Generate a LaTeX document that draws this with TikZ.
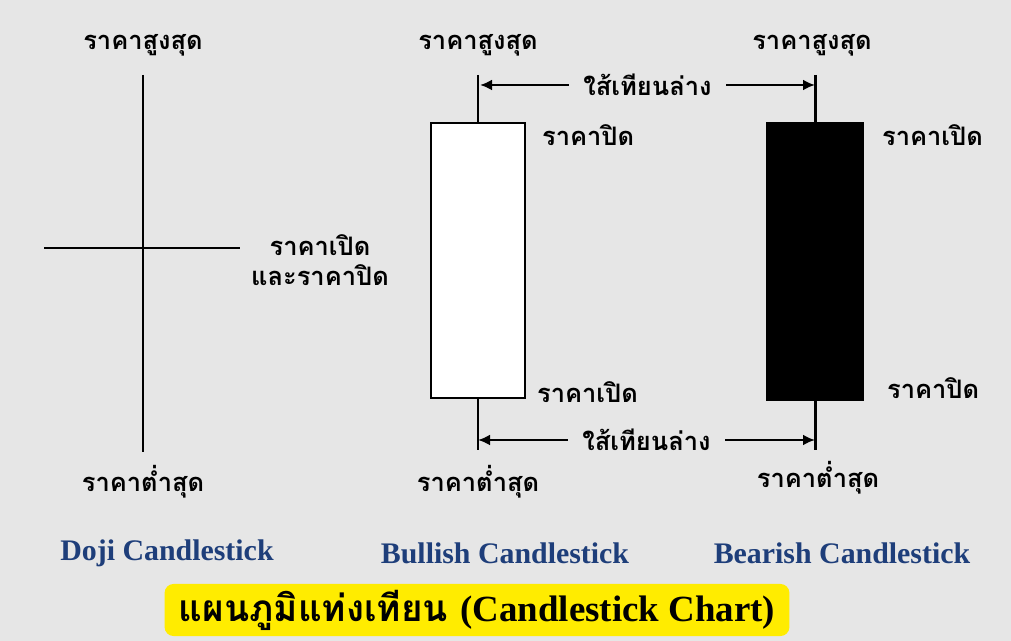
\documentclass[tikz,border=0pt]{standalone}
\usepackage{fontspec}
\setmainfont{Liberation Serif}
\newfontfamily\thaifont[Script=Thai]{Loma}
\newfontfamily\capfont{Liberation Serif}
\usetikzlibrary{arrows.meta, positioning}
\definecolor{bggray}{RGB}{230,230,230}
\definecolor{capblue}{RGB}{30,62,122}
\definecolor{titleyellow}{RGB}{255,236,0}

\begin{document}
\begin{tikzpicture}[x=0.02cm, y=-0.02cm,
  lbl/.style={font=\thaifont\bfseries\fontsize{14.5}{17}\selectfont, inner sep=1pt},
  wick/.style={line width=1.7pt},
  candle/.style={draw, line width=1.5pt, minimum width=1.88cm, minimum height=5.5cm, inner sep=0pt},
  wickarr/.style={{Latex[length=2.4mm,width=2.2mm]}-{Latex[length=2.4mm,width=2.2mm]}, line width=1.6pt},
  capt/.style={font=\capfont\bfseries\fontsize{17}{20}\selectfont, text=capblue},
  titlebox/.style={rectangle, rounded corners=0.18cm, fill=titleyellow,
                   minimum width=12.5cm, minimum height=0.9cm},
]
\fill[bggray] (0,0) rectangle (1011,641);
\useasboundingbox (0,0) rectangle (1011,641);

% --- Doji ---
\coordinate (dojitop) at (143,75);
\coordinate (dojibot) at (143,452);
\coordinate (dojileft) at (44,248);
\coordinate (dojiright) at (240,248);
\draw[wick] (dojitop) -- (dojibot);
\draw[wick] (dojileft) -- (dojiright);
\node[lbl] (dojihigh) at (143,45) {ราคาสูงสุด};
\node[lbl] (dojilow) at (143,482) {ราคาต่ำสุด};
\node[lbl, align=center] (dojiopen) at (320,260) {ราคาเปิด\\และราคาปิด};

% --- Bullish ---
\node[candle, fill=white] (bullbody) at (478,260.5) {};
\coordinate (bulltop) at (478,75);
\coordinate (bullbot) at (478,450);
\draw[wick] (bulltop) -- (bullbody.north);
\draw[wick] (bullbody.south) -- (bullbot);
\node[lbl] (bullhigh) at (478,45) {ราคาสูงสุด};
\node[lbl] (bulllow) at (478,482) {ราคาต่ำสุด};
\node[lbl, anchor=west] (bullclose) at (540,135) {ราคาปิด};
\node[lbl, anchor=west] (bullopen) at (535,392) {ราคาเปิด};

% --- Bearish ---
\node[candle, fill=black, minimum width=1.9cm, minimum height=5.54cm] (bearbody) at (815,261.5) {};
\coordinate (beartop) at (815,75);
\coordinate (bearbot) at (815,450);
\draw[wick] (beartop) -- (bearbody.north);
\draw[wick] (bearbody.south) -- (bearbot);
\node[lbl] (bearhigh) at (812,45) {ราคาสูงสุด};
\node[lbl] (bearlow) at (818,478) {ราคาต่ำสุด};
\node[lbl, anchor=west] (bearopen) at (880,135) {ราคาเปิด};
\node[lbl, anchor=west] (bearclose) at (885,388) {ราคาปิด};

% --- wick arrows ---
\coordinate (uparrl) at (480,85);
\coordinate (uparrr) at (815,85);
\coordinate (lowarrl) at (478,440);
\coordinate (lowarrr) at (815,440);
\draw[wickarr] (uparrl) -- node[lbl, fill=bggray, inner xsep=8pt] (upwick) {ใส้เทียนล่าง} (uparrr);
\draw[wickarr] (lowarrl) -- node[lbl, fill=bggray, inner xsep=8pt] (lowwick) {ใส้เทียนล่าง} (lowarrr);

% --- captions ---
\node[capt] (dojicap) at (167,553) {Doji Candlestick};
\node[capt] (bullcap) at (505,553) {Bullish Candlestick};
\node[capt] (bearcap) at (842,553) {Bearish Candlestick};

\node[titlebox] (title) at (477,610)
  {\thaifont\bfseries\fontsize{21}{24}\selectfont แผนภูมิแท่งเทียน {\rmfamily (Candlestick Chart)}};
\end{tikzpicture}
\end{document}
